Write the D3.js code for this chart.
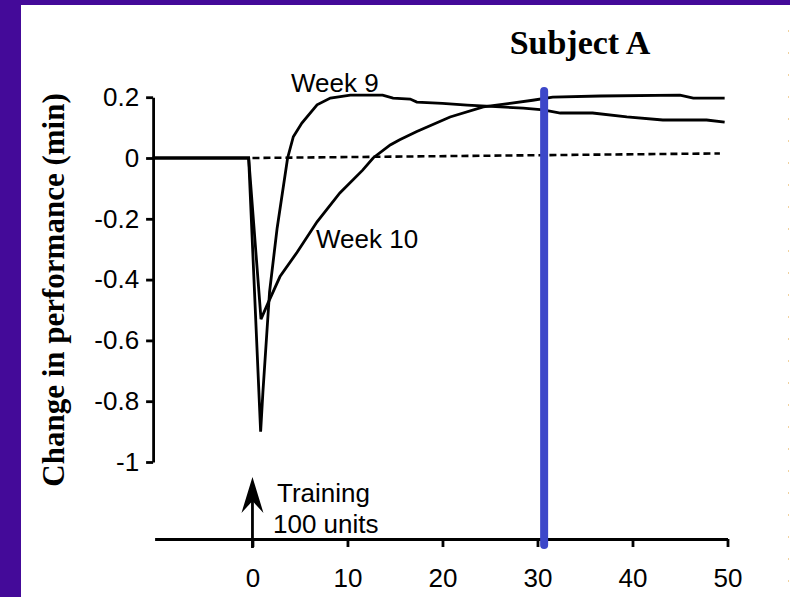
<!DOCTYPE html>
<html lang="en">
  <head>
    <meta charset="UTF-8" />
    <title>Subject A - change in performance</title>
    <script src="https://d3js.org/d3.v7.min.js"></script>
    <style>
      body {
        margin: 0;
        padding: 0;
        background-color: #ffffff;
      }
      svg {
        display: block;
      }
      .axis path,
      .axis line {
        stroke: #000;
        stroke-width: 2.8px;
      }
      .axis text {
        font-family: Arial, "Liberation Sans", sans-serif;
        font-size: 26px;
        fill: #000;
      }
      .label {
        font-family: Arial, "Liberation Sans", sans-serif;
        font-size: 26px;
        fill: #000;
      }
      .serif {
        font-family: "Times New Roman", "Liberation Serif", serif;
        font-weight: bold;
        fill: #000;
      }
    </style>
  </head>
  <body>
    <div id="chart"></div>

    <script>
      // -----------------------------
      // Data
      // -----------------------------
      const xTicks = [0, 10, 20, 30, 40, 50];
      const yTicks = [0.2, 0, -0.2, -0.4, -0.6, -0.8, -1];
      const yTickLabels = ["0.2", "0", "-0.2", "-0.4", "-0.6", "-0.8", "-1"];

      // days after training, change in performance (min)
      const week9Days = [-10.5, -0.4, 0.86, 1.1, 1.8, 2.6, 3.7, 4.3, 5.2, 6.8, 8.2, 10.3, 13.7, 14.8, 16.6, 17.3, 20.0, 22.6, 26.1, 28.5, 30.6, 32.4, 35.8, 39.4, 43.2, 47.8, 49.7];
      const week9Values = [0, 0, -0.9, -0.77, -0.44, -0.23, 0.0, 0.07, 0.115, 0.175, 0.197, 0.207, 0.207, 0.197, 0.194, 0.184, 0.18, 0.174, 0.168, 0.164, 0.158, 0.148, 0.148, 0.135, 0.125, 0.125, 0.118];

      const week10Days = [-10.5, -0.4, 0.9, 1.6, 2.9, 4.7, 6.8, 9.2, 11.6, 12.7, 14.5, 15.5, 17.3, 20.8, 24.3, 27.1, 29.5, 31.6, 36.6, 45.0, 46.4, 49.7];
      const week10Values = [0, 0, -0.53, -0.48, -0.39, -0.31, -0.21, -0.115, -0.04, 0.0, 0.043, 0.06, 0.087, 0.135, 0.168, 0.18, 0.19, 0.2, 0.204, 0.207, 0.197, 0.197];

      // dashed reference (no change) line, slightly tilted as in the scan
      const baselineDays = [0, 49.2];
      const baselineValues = [0, 0.015];

      const trainingDay = 0;
      const markerDay = 30.7; // blue vertical marker

      const seriesLabels = ["Week 9", "Week 10"];

      // -----------------------------
      // Setup
      // -----------------------------
      const width = 790;
      const height = 597;

      const svg = d3
        .select("#chart")
        .append("svg")
        .attr("width", width)
        .attr("height", height);

      // purple slide frame
      svg.append("rect").attr("width", width).attr("height", height).attr("fill", "#440a99");
      svg
        .append("rect")
        .attr("x", 21)
        .attr("y", 5)
        .attr("width", width - 21)
        .attr("height", height - 5)
        .attr("fill", "#ffffff");

      // faint dotted edge on the right of the slide
      svg
        .append("line")
        .attr("x1", 788.5)
        .attr("x2", 788.5)
        .attr("y1", 30)
        .attr("y2", height)
        .attr("stroke", "#f0d2a0")
        .attr("stroke-width", 1)
        .attr("stroke-dasharray", "2,20");

      const x = d3.scaleLinear().domain([-10.3, 50]).range([154.6, 727.5]);
      const y = d3.scaleLinear().domain([-1, 0.2]).range([462, 97.2]);
      const axisY = 539;

      // -----------------------------
      // Axes
      // -----------------------------
      svg
        .append("g")
        .attr("class", "axis")
        .attr("transform", `translate(0,${axisY})`)
        .call(d3.axisBottom(x).tickValues(xTicks).tickSize(8).tickSizeOuter(0).tickPadding(22));

      svg
        .append("g")
        .attr("class", "axis")
        .attr("transform", `translate(${x(-10.3) - 1.5},0)`)
        .call(
          d3
            .axisLeft(y)
            .tickValues(yTicks)
            .tickFormat((d, i) => yTickLabels[i])
            .tickSize(7)
            .tickSizeOuter(0)
            .tickPadding(7)
        );

      // -----------------------------
      // Lines
      // -----------------------------
      const line = d3
        .line()
        .x((d) => x(d[0]))
        .y((d) => y(d[1]));

      svg
        .append("path")
        .datum(d3.zip(baselineDays, baselineValues))
        .attr("d", line)
        .attr("fill", "none")
        .attr("stroke", "#000")
        .attr("stroke-width", 2.6)
        .attr("stroke-dasharray", "7,4");

      [d3.zip(week9Days, week9Values), d3.zip(week10Days, week10Values)].forEach((pts) => {
        svg
          .append("path")
          .datum(pts)
          .attr("d", line)
          .attr("fill", "none")
          .attr("stroke", "#000")
          .attr("stroke-width", 2.8)
          .attr("stroke-linejoin", "miter");
      });

      // series labels
      svg.append("text").attr("class", "label").attr("x", 291).attr("y", 92).text(seriesLabels[0]);
      svg.append("text").attr("class", "label").attr("x", 316).attr("y", 248).text(seriesLabels[1]);

      // -----------------------------
      // Training arrow
      // -----------------------------
      const ax = x(trainingDay);
      svg
        .append("line")
        .attr("x1", ax)
        .attr("x2", ax)
        .attr("y1", axisY + 9)
        .attr("y2", 496)
        .attr("stroke", "#000")
        .attr("stroke-width", 2.8);
      svg
        .append("path")
        .attr("d", `M${ax},477 L${ax + 11},513 L${ax},501 L${ax - 11},513 Z`)
        .attr("fill", "#000");

      svg.append("text").attr("class", "label").attr("x", 277).attr("y", 502).text("Training");
      svg.append("text").attr("class", "label").attr("x", 273).attr("y", 533).text("100 units");

      // -----------------------------
      // Blue marker line
      // -----------------------------
      svg
        .append("line")
        .attr("x1", x(markerDay))
        .attr("x2", x(markerDay))
        .attr("y1", y(0.22))
        .attr("y2", axisY + 6)
        .attr("stroke", "#3d47c9")
        .attr("stroke-width", 8)
        .attr("stroke-linecap", "round");

      // -----------------------------
      // Titles
      // -----------------------------
      svg
        .append("text")
        .attr("class", "serif")
        .attr("x", 580)
        .attr("y", 54)
        .attr("text-anchor", "middle")
        .style("font-size", "34px")
        .text("Subject A");

      svg
        .append("text")
        .attr("class", "serif")
        .attr("transform", "translate(64,290) rotate(-90)")
        .attr("text-anchor", "middle")
        .style("font-size", "31px")
        .text("Change in performance (min)");
    </script>
  </body>
</html>
